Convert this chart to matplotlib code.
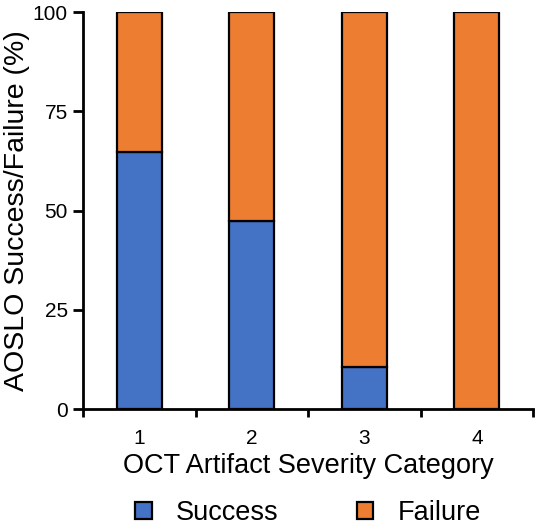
import matplotlib.pyplot as plt

categories = [1, 2, 3, 4]
success = [64.7, 47.4, 10.7, 0.0]
failure = [100 - s for s in success]

plt.rcParams["font.family"] = ["Liberation Sans", "DejaVu Sans"]

fig = plt.figure(figsize=(5.37, 5.28), dpi=100)
ax = fig.add_axes([0.155, 0.225, 0.838, 0.752])

ax.bar(categories, success, width=0.4, color="#4472C4", edgecolor="black",
       linewidth=1.6, label="Success")
ax.bar(categories, failure, width=0.4, bottom=success, color="#ED7D31",
       edgecolor="black", linewidth=1.6, label="Failure")

ax.set_xlim(0.5, 4.5)
ax.set_ylim(0, 100)
ax.set_yticks([0, 25, 50, 75, 100])
ax.set_xticks(categories)
ax.set_xticks([0.5, 1.5, 2.5, 3.5, 4.5], minor=True)
ax.tick_params(axis="x", which="major", length=0, pad=14, labelsize=15)
ax.tick_params(axis="x", which="minor", length=6, width=2)
ax.tick_params(axis="y", length=7, width=2, labelsize=15, pad=4)

for side in ["top", "right"]:
    ax.spines[side].set_visible(False)
for side in ["left", "bottom"]:
    ax.spines[side].set_linewidth(2)

ax.set_xlabel("OCT Artifact Severity Category", fontsize=19.5, labelpad=4)
ax.set_ylabel("AOSLO Success/Failure (%)", fontsize=20.5, labelpad=2)

ax.legend(loc="center", bbox_to_anchor=(0.50, -0.262), ncol=2,
          frameon=False, fontsize=19.5, handlelength=0.6, handleheight=0.6,
          columnspacing=2.9, handletextpad=0.9, borderpad=0.2)

fig.savefig("out.png", dpi=100)
